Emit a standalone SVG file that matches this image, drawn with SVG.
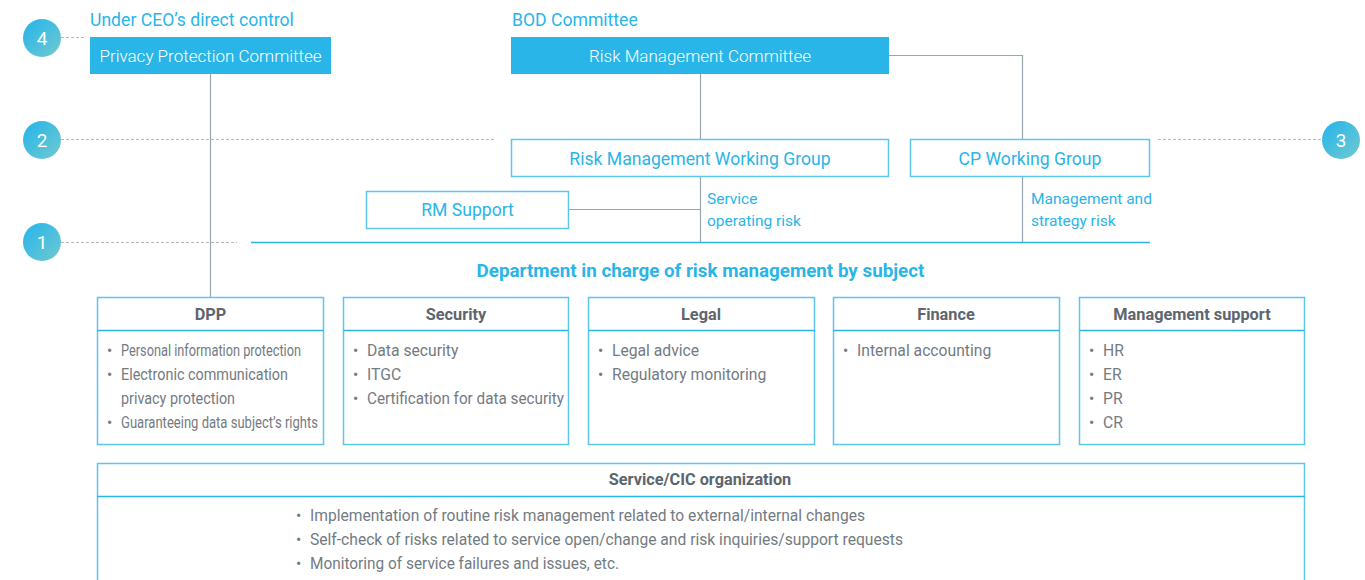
<svg xmlns="http://www.w3.org/2000/svg" width="1365" height="580" viewBox="0 0 1365 580">
  <defs>
    <linearGradient id="badge" x1="0" y1="0" x2="1" y2="1">
      <stop offset="0" stop-color="#22b4ec"/>
      <stop offset="1" stop-color="#72c9cf"/>
    </linearGradient>
    <style>
      .lbl{font-family:Roboto,"Liberation Sans",sans-serif;fill:#29b5e8;font-size:17.6px}
      .wt{font-family:Roboto,"Liberation Sans",sans-serif;fill:#ffffff;font-size:17px;font-weight:300;text-anchor:middle}
      .bl{font-family:Roboto,"Liberation Sans",sans-serif;fill:#29b5e8;font-size:17.6px;text-anchor:middle}
      .sm{font-family:Roboto,"Liberation Sans",sans-serif;fill:#29b5e8;font-size:15.5px}
      .hd{font-family:Roboto,"Liberation Sans",sans-serif;fill:#5d666e;font-size:16.3px;font-weight:bold;text-anchor:middle}
      .it{font-family:Roboto,"Liberation Sans",sans-serif;fill:#737b82;font-size:15.7px}
      .num{font-family:Roboto,"Liberation Sans",sans-serif;fill:#ffffff;font-size:19px;text-anchor:middle}
      .fill{fill:#29b5e8}
      .out{fill:#ffffff;stroke:#5cc6ee;stroke-width:1.5}
      .dash{stroke:#b4b9bd;stroke-width:1.2;stroke-dasharray:3 2;fill:none}
      .conn{stroke:#98a6ae;stroke-width:1.2;fill:none}
      .blue{stroke:#29b5e8;stroke-width:1.5;fill:none}
    </style>
  </defs>
  <rect width="1365" height="580" fill="#ffffff"/>

  <!-- level markers -->
  <g id="levels">
    <line class="dash" x1="61" y1="37.5" x2="84" y2="37.5"/>
    <line class="dash" x1="61" y1="139.5" x2="494" y2="139.5"/>
    <line class="dash" x1="1158" y1="139.5" x2="1322" y2="139.5"/>
    <line class="dash" x1="61" y1="242.5" x2="237" y2="242.5"/>
    <g id="badge-4"><circle cx="42" cy="38" r="19" fill="url(#badge)"/><text class="num" x="42" y="45">4</text></g>
    <g id="badge-2"><circle cx="42" cy="140" r="19" fill="url(#badge)"/><text class="num" x="42" y="147">2</text></g>
    <g id="badge-3"><circle cx="1341" cy="140" r="19" fill="url(#badge)"/><text class="num" x="1341" y="147">3</text></g>
    <g id="badge-1"><circle cx="42" cy="242" r="19" fill="url(#badge)"/><text class="num" x="42" y="249">1</text></g>
  </g>

  <!-- connectors -->
  <g id="connectors">
    <line class="conn" x1="210.5" y1="74" x2="210.5" y2="297"/>
    <line class="conn" x1="700.5" y1="74" x2="700.5" y2="139"/>
    <polyline class="conn" points="889,55.5 1022.5,55.5 1022.5,139"/>
    <line class="conn" x1="700.5" y1="176" x2="700.5" y2="242"/>
    <line class="conn" x1="568" y1="209.5" x2="700.5" y2="209.5"/>
    <line class="conn" x1="1022.5" y1="176" x2="1022.5" y2="242"/>
    <line class="blue" x1="251" y1="242.5" x2="1150" y2="242.5"/>
  </g>

  <g id="ceo-label"><text class="lbl" x="90" y="26">Under CEO’s direct control</text></g>
  <g id="bod-label"><text class="lbl" x="512" y="26">BOD Committee</text></g>

  <g id="privacy-committee">
    <rect class="fill" x="90" y="37" width="241" height="37"/>
    <text class="wt" x="210.5" y="62">Privacy Protection Committee</text>
  </g>
  <g id="risk-committee">
    <rect class="fill" x="511" y="37" width="378" height="37"/>
    <text class="wt" x="700" y="62">Risk Management Committee</text>
  </g>
  <g id="rm-working-group">
    <rect class="out" x="511.5" y="139.5" width="377" height="37"/>
    <text class="bl" x="700" y="165">Risk Management Working Group</text>
  </g>
  <g id="cp-working-group">
    <rect class="out" x="910.5" y="139.5" width="239" height="37"/>
    <text class="bl" x="1030" y="165">CP Working Group</text>
  </g>
  <g id="rm-support">
    <rect class="out" x="366.5" y="191.5" width="202" height="37"/>
    <text class="bl" x="467.5" y="216">RM Support</text>
  </g>

  <g id="risk-notes">
    <text class="sm" x="707" y="204">Service</text>
    <text class="sm" x="707" y="226">operating risk</text>
    <text class="sm" x="1031" y="204">Management and</text>
    <text class="sm" x="1031" y="226">strategy risk</text>
  </g>

  <g id="dept-title">
    <text x="700.5" y="277" style="font-family:Roboto,'Liberation Sans',sans-serif;fill:#29b5e8;font-size:18.8px;font-weight:bold;text-anchor:middle">Department in charge of risk management by subject</text>
  </g>

  <g id="dpp">
    <rect class="out" x="97.5" y="297.5" width="226" height="147"/>
    <line class="blue" x1="97.5" y1="330.5" x2="323.5" y2="330.5"/>
    <text class="hd" x="210.5" y="320">DPP</text>
    <g class="it">
      <text x="107" y="356">•</text><text x="121" y="356" textLength="180" lengthAdjust="spacingAndGlyphs">Personal information protection</text>
      <text x="107" y="380">•</text><text x="121" y="380" textLength="167" lengthAdjust="spacingAndGlyphs">Electronic communication</text>
      <text x="121" y="404" textLength="114" lengthAdjust="spacingAndGlyphs">privacy protection</text>
      <text x="107" y="428">•</text><text x="121" y="428" textLength="197" lengthAdjust="spacingAndGlyphs">Guaranteeing data subject’s rights</text>
    </g>
  </g>
  <g id="security">
    <rect class="out" x="343.5" y="297.5" width="225" height="147"/>
    <line class="blue" x1="343.5" y1="330.5" x2="568.5" y2="330.5"/>
    <text class="hd" x="456" y="320">Security</text>
    <g class="it">
      <text x="353" y="356">•</text><text x="367" y="356">Data security</text>
      <text x="353" y="380">•</text><text x="367" y="380">ITGC</text>
      <text x="353" y="404">•</text><text x="367" y="404" textLength="197" lengthAdjust="spacingAndGlyphs">Certification for data security</text>
    </g>
  </g>
  <g id="legal">
    <rect class="out" x="588.5" y="297.5" width="226" height="147"/>
    <line class="blue" x1="588.5" y1="330.5" x2="814.5" y2="330.5"/>
    <text class="hd" x="701" y="320">Legal</text>
    <g class="it">
      <text x="598" y="356">•</text><text x="612" y="356">Legal advice</text>
      <text x="598" y="380">•</text><text x="612" y="380">Regulatory monitoring</text>
    </g>
  </g>
  <g id="finance">
    <rect class="out" x="833.5" y="297.5" width="226" height="147"/>
    <line class="blue" x1="833.5" y1="330.5" x2="1059.5" y2="330.5"/>
    <text class="hd" x="946" y="320">Finance</text>
    <g class="it">
      <text x="843" y="356">•</text><text x="857" y="356">Internal accounting</text>
    </g>
  </g>
  <g id="management-support">
    <rect class="out" x="1079.5" y="297.5" width="225" height="147"/>
    <line class="blue" x1="1079.5" y1="330.5" x2="1304.5" y2="330.5"/>
    <text class="hd" x="1192" y="320">Management support</text>
    <g class="it">
      <text x="1089" y="356">•</text><text x="1103" y="356">HR</text>
      <text x="1089" y="380">•</text><text x="1103" y="380">ER</text>
      <text x="1089" y="404">•</text><text x="1103" y="404">PR</text>
      <text x="1089" y="428">•</text><text x="1103" y="428">CR</text>
    </g>
  </g>

  <g id="service-cic">
    <rect class="out" x="97.5" y="463.5" width="1207" height="130"/>
    <line class="blue" x1="97.5" y1="496.5" x2="1304.5" y2="496.5"/>
    <text class="hd" x="700" y="485">Service/CIC organization</text>
    <g class="it">
      <text x="296" y="521">•</text><text x="310" y="521" textLength="555" lengthAdjust="spacingAndGlyphs">Implementation of routine risk management related to external/internal changes</text>
      <text x="296" y="545">•</text><text x="310" y="545" textLength="593" lengthAdjust="spacingAndGlyphs">Self-check of risks related to service open/change and risk inquiries/support requests</text>
      <text x="296" y="569">•</text><text x="310" y="569" textLength="309" lengthAdjust="spacingAndGlyphs">Monitoring of service failures and issues, etc.</text>
    </g>
  </g>
</svg>
